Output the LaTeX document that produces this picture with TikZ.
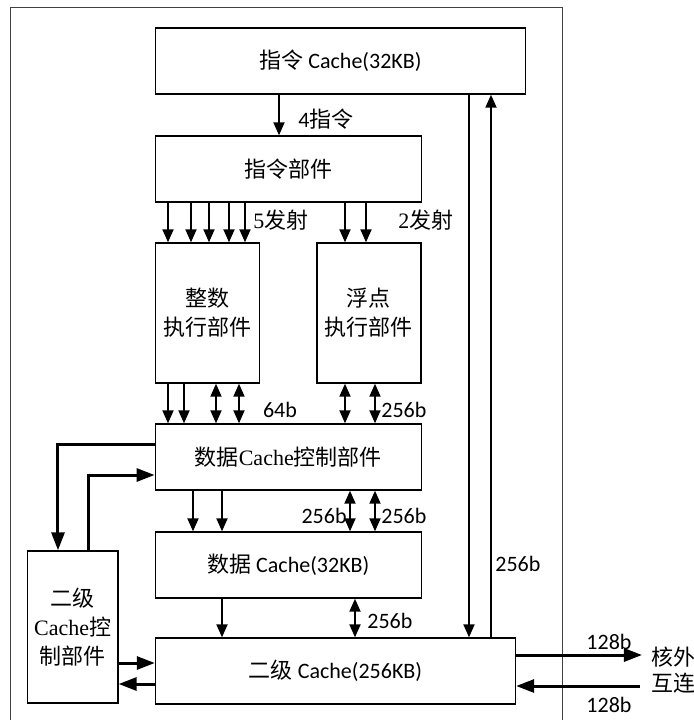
\documentclass[tikz,border=0pt]{standalone}
\usepackage{fontspec}
\setmainfont{Liberation Serif}
\newfontfamily\cjk{Noto Sans CJK SC}
\newfontfamily\cali{Carlito}
\usetikzlibrary{arrows.meta, positioning, calc}

\begin{document}
\begin{tikzpicture}[x=0.5pt, y=-0.5pt, >={Triangle[length=6.5pt, width=5.5pt]},
  unit/.style={draw, line width=0.7pt, inner sep=0pt, align=center,
    font=\cjk\fontsize{11}{14.5}\selectfont},
  bus/.style={->, line width=1pt},
  bibus/.style={<->, line width=1pt},
  fatbus/.style={-{Triangle[length=9pt, width=6.5pt]}, line width=1.5pt},
  lbl/.style={inner sep=1pt, font=\cali\fontsize{11}{13}\selectfont}]
  \useasboundingbox (0,0) rectangle (694,720);
  % Core frame
  \draw[line width=0.5pt, black!75] (11,720) -- (11,7) -- (563,7) -- (563,720);
  % Units
  \node[unit, minimum width=185pt, minimum height=33pt] (icache) at (340.5,61)
    {指令 {\cali Cache(32KB)}};
  \node[unit, minimum width=133pt, minimum height=33pt] (ifu) at (288.3,169) {指令部件};
  \node[unit, minimum width=52pt, minimum height=70pt] (int) at (207.7,313) {整数\\执行部件};
  \node[unit, minimum width=52pt, minimum height=70pt] (fp) at (369,313) {浮点\\执行部件};
  \node[unit, minimum width=133pt, minimum height=33pt] (dcc) at (288.3,457)
    {数据{\rmfamily Cache}控制部件};
  \node[unit, minimum width=133pt, minimum height=33pt] (dcache) at (288.3,565)
    {数据 {\cali Cache(32KB)}};
  \node[unit, minimum width=180pt, minimum height=33pt] (l2) at (335.5,671)
    {二级 {\cali Cache(256KB)}};
  \node[unit, minimum width=45.25pt, minimum height=76pt] (l2c) at (72.7,627)
    {二级\\{\rmfamily Cache}控\\制部件};
  \coordinate (outx) at (642,655);
  \coordinate (inx) at (640,686);
  % Instruction path
  \draw[bus] (279,0 |- icache.south) -- (279,0 |- ifu.north);
  \node[lbl, anchor=west] (n4) at (296,119) {4{\cjk 指令}};
  \foreach \x in {168,191,209,229,245}
    \draw[bus] (\x,0 |- ifu.south) -- (\x,0 |- int.north);
  \foreach \x in {345,366}
    \draw[bus] (\x,0 |- ifu.south) -- (\x,0 |- fp.north);
  \node[lbl, anchor=west, font=\cjk\fontsize{11}{13}\selectfont] (n5) at (251,220) {{\rmfamily 5}发射};
  \node[lbl, anchor=west, font=\cjk\fontsize{11}{13}\selectfont] (n2) at (396,220) {{\rmfamily 2}发射};
  % Execution to data cache control
  \foreach \x in {168,184}
    \draw[bus] (\x,0 |- int.south) -- (\x,0 |- dcc.north);
  \foreach \x in {216,239}
    \draw[bibus] (\x,0 |- int.south) -- (\x,0 |- dcc.north);
  \foreach \x in {345,375}
    \draw[bibus] (\x,0 |- fp.south) -- (\x,0 |- dcc.north);
  \node[lbl] (n64) at (280,410) {64b};
  \node[lbl, anchor=west] (nfp) at (379,410) {256b};
  % Data cache
  \foreach \x in {193,222}
    \draw[bus] (\x,0 |- dcc.south) -- (\x,0 |- dcache.north);
  \foreach \x in {350,375}
    \draw[bibus] (\x,0 |- dcc.south) -- (\x,0 |- dcache.north);
  \node[lbl, anchor=east] (nd1) at (349,516) {256b};
  \node[lbl, anchor=west] (nd2) at (379,516) {256b};
  \draw[bus] (222,0 |- dcache.south) -- (222,0 |- l2.north);
  \draw[bibus] (355,0 |- dcache.south) -- (355,0 |- l2.north);
  \node[lbl, anchor=west] (nd3) at (365,621) {256b};
  % Instruction cache and L2
  \draw[bus] (469,0 |- icache.south) -- (469,0 |- l2.north);
  \draw[bus] (491,0 |- l2.north) -- (491,0 |- icache.south);
  \node[lbl, anchor=west] (ni) at (493,564) {256b};
  % L2 control
  \draw[fatbus] (0,444 -| dcc.west) -| (58,0 |- l2c.north);
  \draw[fatbus] (89,0 |- l2c.north) |- (0,475 -| dcc.west);
  \draw[fatbus] (0,663 -| l2c.east) -- (0,663 -| l2.west);
  \draw[fatbus] (0,684 -| l2.west) -- (0,684 -| l2c.east);
  % Off-core
  \draw[fatbus] (0,655 -| l2.east) -- (outx);
  \draw[fatbus] (inx) -- (0,686 -| l2.east);
  \node[lbl] (no) at (609,642) {128b};
  \node[lbl] (ni2) at (609,705) {128b};
  \node[anchor=west, align=left, inner sep=0pt, font=\cjk\fontsize{11}{13}\selectfont] (ext) at (651,670) {核外\\互连};
\end{tikzpicture}
\end{document}
